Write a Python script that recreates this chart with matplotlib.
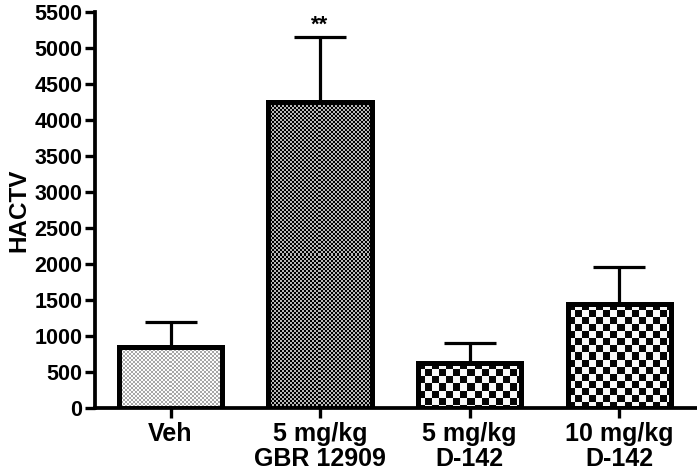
import numpy as np
import matplotlib.pyplot as plt

# values
groups = ["Veh", "5 mg/kg\nGBR 12909", "5 mg/kg\nD-142", "10 mg/kg\nD-142"]
means = [840, 4250, 630, 1450]
sems = [360, 900, 270, 500]
stars = ["", "**", "", ""]
yticks = list(range(0, 5501, 500))

plt.rcParams['font.family'] = ['Liberation Sans', 'DejaVu Sans']
plt.rcParams['font.weight'] = 'bold'

fig = plt.figure(figsize=(6.97, 4.74), dpi=100)
ax = fig.add_axes([95 / 697, 66 / 474, 602 / 697, (474 - 66 - 11.7) / 474])


def fill_pattern(kind, nx, ny):
    # pixel-level fill patterns, one array cell ~ one screen pixel
    i, j = np.mgrid[0:ny, 0:nx]
    if kind == 'dots':
        chk = ((i // 2) + (j // 2)) % 2 == 0
        return np.where(chk, 0.66, 0.99)
    if kind == 'fine':
        chk = ((i // 2) + (j // 2)) % 2 == 0
        return np.where(chk, 0.0, 0.72)
    chk = ((i // 7) + (j // 7)) % 2 == 0
    return np.where(chk, 0.02, 0.97)


kinds = ['dots', 'fine', 'coarse', 'coarse']
x = np.arange(len(groups))
width = 0.69
bars = ax.bar(x, means, width=width, color='none', edgecolor='black',
              linewidth=3.6, zorder=3)
ax.errorbar(x, means, yerr=[np.zeros(len(sems)), sems], fmt='none',
            ecolor='black', elinewidth=2.3, capsize=19, capthick=2.3, zorder=2)

ax.set_xlim(-0.505, 3.52)
ax.set_ylim(0, 5500)

# paint the pattern inside each bar
px_per_x = 602 / (3.52 + 0.505)
px_per_y = (474 - 66 - 11.7) / 5500
for b, kind in zip(bars, kinds):
    x0, w, h = b.get_x(), b.get_width(), b.get_height()
    nx = int(round(w * px_per_x))
    ny = int(round(h * px_per_y))
    im = ax.imshow(fill_pattern(kind, nx, ny), cmap='gray', vmin=0, vmax=1,
                   extent=[x0, x0 + w, 0, h], interpolation='nearest',
                   aspect='auto', zorder=1)
    im.set_clip_path(b)

for xi, m, s, st in zip(x, means, sems, stars):
    if st:
        ax.annotate(st, (xi, m + s), xytext=(0, 1), textcoords='offset points',
                    ha='center', va='bottom', fontsize=16, fontweight='bold')

ax.set_yticks(yticks)
ax.set_xticks(x)
ax.set_xticklabels(groups, fontsize=18, fontweight='bold', linespacing=1.05)
ax.tick_params(axis='y', labelsize=15.5, width=2.4, length=7, pad=2)
ax.tick_params(axis='x', width=2.4, length=7, pad=3)
for t in ax.get_yticklabels():
    t.set_fontweight('bold')
ax.set_ylabel("HACTV", fontsize=17.5, fontweight='bold', labelpad=3)

for side in ['top', 'right']:
    ax.spines[side].set_visible(False)
for side in ['left', 'bottom']:
    ax.spines[side].set_linewidth(2.7)

fig.savefig('out.png', dpi=100)
